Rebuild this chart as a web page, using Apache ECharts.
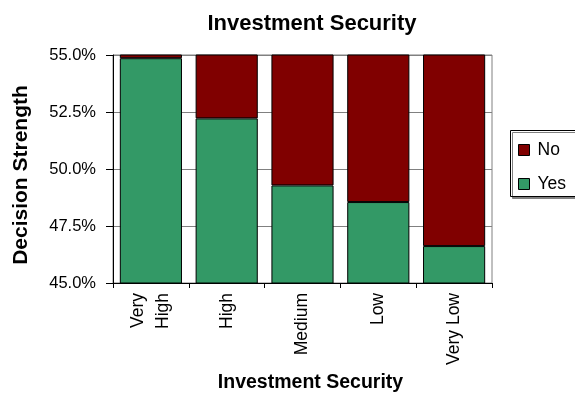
<!DOCTYPE html>
<html><head><meta charset="utf-8">
<script src="https://cdn.jsdelivr.net/npm/echarts@6/dist/echarts.min.js"></script>
<style>html,body{margin:0;padding:0;background:#fff}#c{width:575px;height:398px}</style>
</head><body><div id="c"></div>
<script>
const categories = ['Very\nHigh', 'High', 'Medium', 'Low', 'Very Low'];
const yesValues = [54.86, 52.22, 49.28, 48.55, 46.62];
const noValues = [45.14, 47.78, 50.72, 51.45, 53.38];
const yTicks = { min: 45, max: 55, interval: 2.5 };

const chart = echarts.init(document.getElementById('c'), null, { renderer: 'canvas' });
const font = 'Liberation Sans, Arial, sans-serif';
chart.setOption({
  animation: false,
  backgroundColor: '#fff',
  title: {
    text: 'Investment Security', left: 307, top: 8, textAlign: 'center',
    textStyle: { fontFamily: font, fontSize: 22, fontWeight: 'bold', color: '#000' }
  },
  graphic: [{
    type: 'rect', z: 0, silent: true,
    shape: { x: 510.5, y: 130.5, width: 90, height: 66 },
    style: { fill: '#fff', stroke: '#000', lineWidth: 1, shadowColor: '#808080', shadowOffsetX: 2, shadowOffsetY: 2, shadowBlur: 0 }
  }],
  grid: { left: 113, right: 83, top: 55, bottom: 114, show: true, borderColor: '#808080', borderWidth: 1 },
  legend: {
    data: ['No', 'Yes'], orient: 'vertical', left: 510, top: 130, z: 5,
    padding: [11, 5, 5, 8], itemGap: 16,
    itemWidth: 11, itemHeight: 11, icon: 'rect',
    itemStyle: { borderColor: '#000', borderWidth: 1 },
    textStyle: { fontFamily: font, fontSize: 17.5, color: '#000', padding: [0, 0, 0, 3] }
  },
  xAxis: {
    type: 'category', data: categories,
    name: 'Investment Security', nameLocation: 'middle', nameGap: 90,
    nameTextStyle: { fontFamily: font, fontSize: 19.5, fontWeight: 'bold', color: '#000', padding: [0, 0, 0, 16] },
    axisLine: { lineStyle: { color: '#000', width: 1 } },
    axisTick: { show: true, length: 5, lineStyle: { color: '#000' } },
    axisLabel: { rotate: 90, margin: 10, fontFamily: font, fontSize: 17.5, color: '#000', lineHeight: 25 },
    splitLine: { show: false }
  },
  yAxis: {
    type: 'value', min: yTicks.min, max: yTicks.max, interval: yTicks.interval,
    name: 'Decision Strength', nameLocation: 'middle', nameGap: 81, nameRotate: 90,
    nameTextStyle: { fontFamily: font, fontSize: 21, fontWeight: 'bold', color: '#000', padding: [0, 12, 0, 0] },
    axisLine: { show: true, lineStyle: { color: '#000', width: 1 } },
    axisTick: { show: true, length: 7, lineStyle: { color: '#000' } },
    axisLabel: { formatter: v => v.toFixed(1) + '%', margin: 17, fontFamily: font, fontSize: 16.5, color: '#000' },
    splitLine: { show: true, lineStyle: { color: '#808080', width: 1 } }
  },
  series: [
    { name: 'Yes', type: 'bar', stack: 'a', data: yesValues, barCategoryGap: '18%',
      itemStyle: { color: '#339966', borderColor: '#000', borderWidth: 1 } },
    { name: 'No', type: 'bar', stack: 'a', data: noValues, barCategoryGap: '18%',
      itemStyle: { color: '#800000', borderColor: '#000', borderWidth: 1 } }
  ]
});
</script></body></html>
